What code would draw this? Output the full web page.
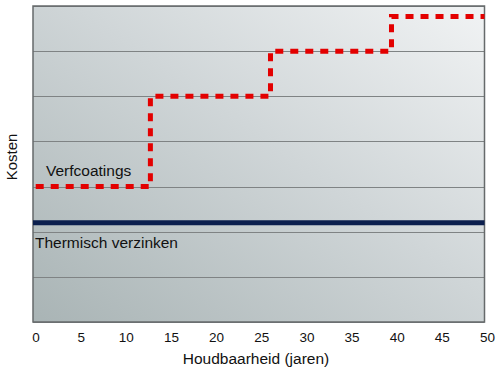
<!DOCTYPE html>
<html>
<head>
<meta charset="utf-8">
<script src="https://cdn.jsdelivr.net/npm/d3@7"></script>
<style>
  body { margin: 0; background: #fff; }
  text { font-family: "Liberation Sans", Arial, sans-serif; }
</style>
</head>
<body>
<script>
const width = 504;
const height = 379;

// Chart values.
const xTicks = [0, 5, 10, 15, 20, 25, 30, 35, 40, 45, 50];
const yGrid = [0, 1, 2, 3, 4, 5, 6, 7];
// Verfcoatings: step line (year, cost level).
const paintYears = [0, 13, 13, 26.3, 26.3, 39.7, 39.7, 50];
const paintCost = [3, 3, 5, 5, 6, 6, 6.77, 6.77];
// Thermisch verzinken: flat cost.
const galvYears = [0, 50];
const galvCost = [2.2, 2.2];

const margin = { top: 6, right: 19.5, bottom: 57, left: 33 };

let svg = d3
  .select('body')
  .append('svg')
  .attr('width', width)
  .attr('height', height);

let xScale = d3
  .scaleLinear()
  .domain([0, 50])
  .range([margin.left, width - margin.right]);

let yScale = d3
  .scaleLinear()
  .domain([0, 7])
  .range([height - margin.bottom, margin.top]);

// Background gradient.
let defs = svg.append('defs');
let grad = defs
  .append('linearGradient')
  .attr('id', 'bg')
  .attr('x1', '0%')
  .attr('y1', '100%')
  .attr('x2', '100%')
  .attr('y2', '0%');
grad.append('stop').attr('offset', '0%').attr('stop-color', '#a9b4b5');
grad.append('stop').attr('offset', '55%').attr('stop-color', '#d0d6d8');
grad.append('stop').attr('offset', '100%').attr('stop-color', '#f1f3f4');

svg
  .append('rect')
  .attr('x', xScale(0))
  .attr('y', yScale(7))
  .attr('width', xScale(50) - xScale(0))
  .attr('height', yScale(0) - yScale(7))
  .attr('fill', 'url(#bg)');

// Horizontal gridlines.
svg
  .append('g')
  .selectAll('line')
  .data(yGrid)
  .join('line')
  .attr('x1', xScale(0))
  .attr('x2', xScale(50))
  .attr('y1', (d) => Math.round(yScale(d)) + 0.5)
  .attr('y2', (d) => Math.round(yScale(d)) + 0.5)
  .attr('stroke', '#7f8384')
  .attr('stroke-width', 1);

// Border.
svg
  .append('rect')
  .attr('x', xScale(0))
  .attr('y', yScale(7))
  .attr('width', xScale(50) - xScale(0))
  .attr('height', yScale(0) - yScale(7))
  .attr('fill', 'none')
  .attr('stroke', '#666a6b')
  .attr('stroke-width', 1.5);

let line = d3
  .line()
  .x((d) => xScale(d[0]))
  .y((d) => yScale(d[1]));

// Thermisch verzinken line.
svg
  .append('path')
  .attr('d', line(d3.zip(galvYears, galvCost)))
  .attr('fill', 'none')
  .attr('stroke', '#0b1f4e')
  .attr('stroke-width', 5);

// Verfcoatings step line.
svg
  .append('path')
  .attr('d', line(d3.zip(paintYears, paintCost).map((d, i) => (i === 0 ? [d[0] + 0.3, d[1]] : d))))
  .attr('fill', 'none')
  .attr('stroke', '#e30000')
  .attr('stroke-width', 5)
  .attr('stroke-dasharray', '8,7');

// Series labels.
svg
  .append('text')
  .attr('x', 46)
  .attr('y', 176)
  .attr('font-size', 15.5)
  .attr('fill', '#111')
  .text('Verfcoatings');

svg
  .append('text')
  .attr('x', 35)
  .attr('y', 248)
  .attr('font-size', 15.5)
  .attr('fill', '#111')
  .text('Thermisch verzinken');

// X tick labels.
svg
  .append('g')
  .selectAll('text')
  .data(xTicks)
  .join('text')
  .attr('x', (d) => xScale(d) + 3)
  .attr('y', 342)
  .attr('text-anchor', 'middle')
  .attr('font-size', 13.5)
  .attr('fill', '#111')
  .text((d) => d);

// Axis titles.
svg
  .append('text')
  .attr('x', 256)
  .attr('y', 364)
  .attr('text-anchor', 'middle')
  .attr('font-size', 15.5)
  .attr('fill', '#111')
  .text('Houdbaarheid (jaren)');

svg
  .append('text')
  .attr('transform', 'translate(17, 157) rotate(-90)')
  .attr('text-anchor', 'middle')
  .attr('font-size', 15)
  .attr('fill', '#111')
  .text('Kosten');
</script>
</body>
</html>
